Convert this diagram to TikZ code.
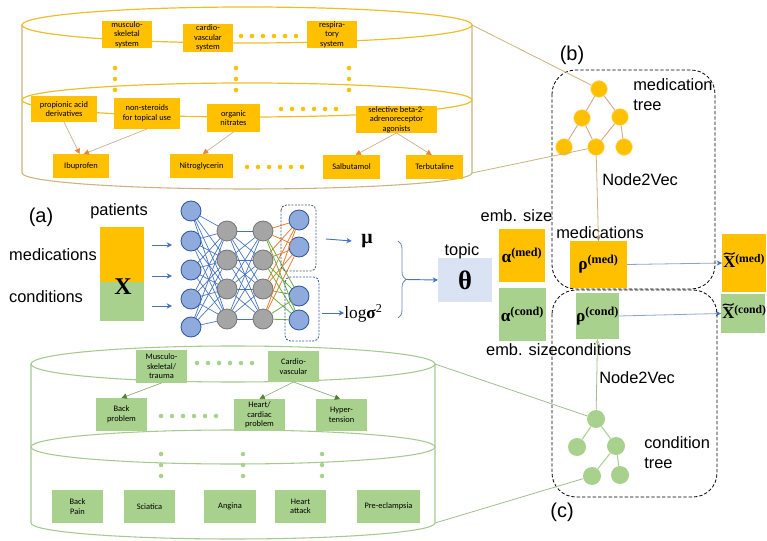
\documentclass[tikz,border=0pt]{standalone}
\usepackage{amsmath}
\usepackage[no-math]{fontspec}
\setmainfont{Liberation Sans}
\newfontfamily\boxfont{Carlito}
\newfontfamily\symserif{Liberation Serif}
\usetikzlibrary{arrows.meta,decorations.pathreplacing}

\definecolor{medor}{HTML}{FFC000}
\definecolor{condgr}{HTML}{A9D18E}
\definecolor{topicbl}{HTML}{DAE3F3}
\definecolor{nnblue}{HTML}{8FAADC}
\definecolor{nnedge}{HTML}{2F5597}
\definecolor{nnline}{HTML}{4472C4}
\definecolor{nngray}{HTML}{A5A5A5}
\definecolor{nngrayedge}{HTML}{767676}
\definecolor{outor}{HTML}{ED7D31}
\definecolor{outgr}{HTML}{70AD47}
\definecolor{goldline}{HTML}{EDBE2A}
\definecolor{tanline}{HTML}{C9B37E}
\definecolor{medarrow}{HTML}{D2A98E}
\definecolor{medtip}{HTML}{E8843A}
\definecolor{cylgreen}{HTML}{A6C98F}
\definecolor{greenarrow}{HTML}{86AD70}
\definecolor{greentip}{HTML}{548235}
\definecolor{recon}{HTML}{8FA3CC}
\definecolor{bracecol}{HTML}{6A87BD}
\definecolor{darkdash}{HTML}{44546A}

% box spanning the corners (x1,y1)-(x2,y2), given in pixel units
\newcommand\cellbox[7]{%
  \node[#1, minimum width={(#4-#2)*0.75pt}, minimum height={(#5-#3)*0.75pt}]
    (#6) at ({(#2+#4)/2},{(#3+#5)/2}) {#7};}
% bold serif symbol with a bracketed superscript
\newcommand\bsup[2]{{\symserif\bfseries #1\textsuperscript{(#2)}}}

\tikzset{
  plainbox/.style={inner sep=0pt, outer sep=0pt, align=center},
  mbox/.style={plainbox, fill=medor, font=\boxfont\fontsize{6.3}{7.2}\selectfont},
  cbox/.style={plainbox, fill=condgr, font=\boxfont\fontsize{6.3}{7.2}\selectfont},
  mathor/.style={plainbox, fill=medor, font=\fontsize{13}{15}\selectfont},
  mathgr/.style={plainbox, fill=condgr, font=\fontsize{13}{15}\selectfont},
  recolbl/.style={inner sep=0pt, anchor=base west, font=\symserif\bfseries\fontsize{12.5}{14}\selectfont},
  tildemark/.style={line width=0.85pt, line cap=round},
  lbl/.style={inner sep=0pt, font=\fontsize{12.3}{15}\selectfont},
  tag/.style={inner sep=0pt, font=\fontsize{15}{17}\selectfont},
  inn/.style={circle, minimum size=15pt, inner sep=0pt, fill=nnblue, draw=nnedge, line width=0.6pt},
  hid/.style={circle, minimum size=15pt, inner sep=0pt, fill=nngray, draw=nngrayedge, line width=0.6pt},
  mnode/.style={circle, minimum size=12.5pt, inner sep=0pt, fill=medor, draw=medor!55!white, line width=0.4pt},
  cnode/.style={circle, minimum size=13.5pt, inner sep=0pt, fill=condgr},
  medarr/.style={draw=medarrow, line width=0.5pt, -{Triangle[length=4pt,width=4pt,color=medtip]}},
  condarr/.style={draw=greenarrow, line width=0.5pt, -{Triangle[length=4pt,width=4pt,color=greentip]}},
  bluearr/.style={draw=nnline, line width=0.7pt, -{Stealth[length=4pt,width=4pt]}},
  treebox/.style={dashed, dash pattern=on 2.5pt off 1.5pt, line width=0.6pt, rounded corners=18pt},
}

\begin{document}
\begin{tikzpicture}[x=0.75pt,y=-0.75pt]
\useasboundingbox (0,0) rectangle (767,541);

% ---------- medication hierarchy cylinder ----------
\draw[tanline, line width=0.8pt] (22,25) -- (22,173)
  arc[start angle=180, end angle=360, x radius=168.75pt, y radius=12pt] -- (472,25);
\draw[goldline, line width=0.9pt] (247,25) ellipse [x radius=168.75pt, y radius=13.5pt];
\draw[goldline, line width=0.9pt] (247,100) ellipse [x radius=168.75pt, y radius=12.75pt];
\coordinate (topcylR) at (472,25);
\coordinate (topcylB) at (472,173);

\foreach \x in {241,252,...,296} \fill[medor] (\x,36) circle[radius=1.7pt];
\foreach \x in {115,236,349} \foreach \y in {68,79,90} \fill[medor] (\x,\y) circle[radius=1.7pt];
\foreach \x in {281,292,...,336} \fill[medor] (\x,109) circle[radius=1.7pt];
\foreach \x in {247,258,...,302} \fill[medor] (\x,167) circle[radius=1.7pt];

\cellbox{mbox}{102}{21}{152}{48}{ms}{musculo-\\skeletal\\system}
\cellbox{mbox}{183}{24}{233}{52}{cv}{cardio-\\vascular\\system}
\cellbox{mbox}{307}{21}{357}{48}{rs}{respira-\\tory\\system}
\cellbox{mbox}{31}{96}{97}{122}{pad}{propionic acid\\derivatives}
\cellbox{mbox}{114}{98}{180}{129}{nst}{non-steroids\\for topical use}
\cellbox{mbox}{207}{104}{260}{132}{orn}{organic\\nitrates}
\cellbox{mbox}{356}{106}{437}{133}{sba}{selective beta-2-\\adrenoreceptor\\agonists}
\cellbox{mbox}{53}{154}{109}{178}{ibu}{Ibuprofen}
\cellbox{mbox}{170}{154}{233}{178}{ntg}{Nitroglycerin}
\cellbox{mbox}{323}{155}{380}{179}{sal}{Salbutamol}
\cellbox{mbox}{406}{155}{463}{179}{ter}{Terbutaline}

\draw[medarr] (pad.south) -- ([xshift=-1pt]ibu.north);
\draw[medarr] (nst.south) -- ([xshift=2pt]ibu.north);
\draw[medarr] (orn.south) -- ([xshift=1pt]ntg.north);
\draw[medarr] (sba.south) -- ([xshift=3pt]sal.north);
\draw[medarr] (sba.south) -- ([xshift=-2pt]ter.north);

% ---------- condition hierarchy cylinder ----------
\draw[cylgreen, line width=0.8pt] (31,364) -- (31,523)
  arc[start angle=180, end angle=360, x radius=151.5pt, y radius=12pt] -- (435,364);
\draw[cylgreen, line width=0.8pt] (233,364) ellipse [x radius=151.5pt, y radius=13.5pt];
\draw[cylgreen, line width=0.8pt] (233,447) ellipse [x radius=151.5pt, y radius=12.75pt];
\coordinate (botcylR) at (435,364);
\coordinate (botcylB) at (435,523);

\foreach \x in {197,208,...,252} \fill[condgr] (\x,363) circle[radius=1.7pt];
\foreach \x in {161,172,...,216} \fill[condgr] (\x,416) circle[radius=1.7pt];
\foreach \x in {161,243,322} \foreach \y in {454,465,476} \fill[condgr] (\x,\y) circle[radius=1.7pt];

\cellbox{cbox}{136}{350}{187}{383}{mst}{Musculo-\\skeletal/\\trauma}
\cellbox{cbox}{268}{351}{319}{382}{cvb}{Cardio-\\vascular}
\cellbox{cbox}{96}{398}{147}{431}{bp}{Back\\problem}
\cellbox{cbox}{234}{399}{285}{431}{hcp}{Heart/\\cardiac\\problem}
\cellbox{cbox}{316}{399}{367}{431}{hyp}{Hyper-\\tension}
\cellbox{cbox}{52}{490}{103}{523}{bpn}{Back\\Pain}
\cellbox{cbox}{124}{490}{175}{523}{sci}{Sciatica}
\cellbox{cbox}{204}{490}{256}{523}{ang}{Angina}
\cellbox{cbox}{275}{490}{326}{523}{hat}{Heart\\attack}
\cellbox{cbox}{357}{490}{420}{523}{pre}{Pre-eclampsia}

\draw[condarr] (mst.south) -- (bp.north);
\draw[condarr] (cvb.south) -- (hcp.north);
\draw[condarr] (cvb.south) -- ([xshift=-1pt]hyp.north);

% ---------- input matrix ----------
\node[tag] (lbla) at (41,217) {(a)};
\node[lbl] (lblpat) at (119,211) {patients};
\node[lbl] (lblmed) at (53,255) {medications};
\node[lbl] (lblcond) at (46,297) {conditions};
\cellbox{plainbox, fill=medor}{100}{227}{144}{282}{xmed}{}
\cellbox{plainbox, fill=condgr}{100}{282}{144}{321}{xcond}{}
\node[inner sep=0pt, font=\symserif\bfseries\fontsize{18}{20}\selectfont] (xlbl) at (123,287) {X};

% ---------- encoder network ----------
\foreach \i/\y in {1/211,2/241,3/270,4/299,5/327} \node[inn] (i\i) at (191,\y) {};
\foreach \i/\y in {1/231,2/260,3/289,4/319} \node[hid] (h\i) at (227,\y) {};
\foreach \i/\y in {1/231,2/260,3/289,4/319} \node[hid] (g\i) at (263,\y) {};
\foreach \i/\y in {1/220,2/247,3/296,4/320} \node[inn] (o\i) at (299,\y) {};

\foreach \i in {1,...,5} \foreach \j in {1,...,4} \draw[nnline, line width=0.5pt] (i\i) -- (h\j);
\foreach \i in {1,...,4} \foreach \j in {1,...,4} \draw[nnline, line width=0.5pt] (h\i) -- (g\j);
\foreach \i in {1,...,4} \foreach \j in {1,2} \draw[outor, line width=0.6pt] (g\i) -- (o\j);
\foreach \i in {1,...,4} \foreach \j in {3,4} \draw[outgr, line width=0.6pt] (g\i) -- (o\j);

\draw[darkdash, dashed, dash pattern=on 1.5pt off 1pt, line width=0.6pt, rounded corners=4pt] (281,205) rectangle (316,271);
\draw[nnedge, dashed, dash pattern=on 1.5pt off 1pt, line width=0.6pt, rounded corners=4pt] (285,277) rectangle (319,341);

\coordinate (xa1) at (152,245); \coordinate (xb1) at (172,245);
\coordinate (xa2) at (152,276); \coordinate (xb2) at (172,276);
\coordinate (xa3) at (152,306); \coordinate (xb3) at (172,306);
\foreach \k in {1,2,3} \draw[bluearr] (xa\k) -- (xb\k);

\node[inner sep=0pt, font=\symserif\bfseries\fontsize{15}{17}\selectfont] (mu) at (367,241) {μ};
\node[inner sep=0pt, anchor=west, font=\symserif\fontsize{13}{15}\selectfont] (lsig) at (344,313) {log\textbf{σ}\textsuperscript{2}};
\coordinate (mua) at (326,239);
\coordinate (siga) at (322,313);
\draw[bluearr] (mua) -- ([xshift=-7pt]mu.west);
\draw[bluearr] (siga) -- (lsig.west);

\draw[bracecol, line width=0.6pt, decorate, decoration={brace, amplitude=6pt}] (398,241) -- (398,318);
\coordinate (bracetip) at (406,279.5);

% ---------- topic and embeddings ----------
\cellbox{plainbox, fill=topicbl, font=\symserif\bfseries\fontsize{20}{22}\selectfont}{438}{258}{492}{302}{theta}{θ}
\node[lbl] (lbltopic) at (462,251) {topic};
\draw[bluearr] (bracetip) -- (theta.west);

\cellbox{mathor}{499}{229}{545}{282}{amed}{\bsup{α}{med}}
\cellbox{mathgr}{499}{288}{546}{341}{acond}{\bsup{α}{cond}}
\node[lbl] (emb1) at (516.5,216) {emb. size};
\node[lbl] (emb2) at (522,350) {emb. size};

\cellbox{mathor}{570}{241}{627}{288}{rhomed}{\bsup{ρ}{med}}
\cellbox{mathgr}{578}{293}{617}{339}{rhocond}{\bsup{ρ}{cond}}
\node[lbl] (lblmeds) at (600,233) {medications};
\node[lbl] (lblconds) at (594.5,350) {conditions};

% reconstructed outputs; the tilde over X is drawn as a small wave
\cellbox{mathor}{722}{234}{766}{292}{xtmed}{}
\cellbox{mathgr}{721}{294}{765}{333}{xtcond}{}
\node[recolbl] (xtmedlbl) at (723,268) {X\textsuperscript{(med)}};
\node[recolbl] (xtcondlbl) at (722,319) {X\textsuperscript{(cond)}};
\foreach \n in {xtmedlbl,xtcondlbl}
  \draw[tildemark] ([xshift=0.7pt,yshift=10.4pt]\n.base west)
    .. controls +(1.3pt,1.7pt) and +(-1.7pt,0pt) .. +(3.9pt,0.3pt)
    .. controls +(1.7pt,0pt) and +(-1.3pt,-1.7pt) .. +(8pt,1pt);
\draw[recon, line width=0.6pt, -{Stealth[length=4pt,width=4pt,color=nnline]}] (rhomed.east) -- (xtmed.west);
\draw[recon, line width=0.6pt, -{Stealth[length=4pt,width=4pt,color=nnline]}] (rhocond.east) -- (xtcond.west);

% ---------- medication tree (b) ----------
\draw[treebox] (552,70) rectangle (715,289);
\node[tag] (lblb) at (572,55) {(b)};
\node[mnode] (mt1) at (599,89) {};
\node[mnode] (mt2) at (582,118) {};
\node[mnode] (mt3) at (620,117) {};
\node[mnode] (mt4) at (564,147) {};
\node[mnode] (mt5) at (596,147) {};
\node[mnode] (mt6) at (624,147) {};
\foreach \a/\b in {mt1/mt2,mt1/mt3,mt2/mt4,mt2/mt5,mt3/mt5,mt3/mt6}
  \draw[medarrow, line width=0.7pt] (\a) -- (\b);
\node[lbl, anchor=west, align=left] (lblmt) at (633,95) {medication\\tree};
\node[lbl, anchor=west] (n2v1) at (602,180) {Node2Vec};
\draw[tanline, line width=0.6pt] (topcylR) -- (mt1);
\draw[tanline, line width=0.6pt] (topcylB) -- (mt5);
\draw[tanline, line width=0.6pt, -{Stealth[length=4pt,width=3.5pt,color=medarrow!80!black]}] (mt5) -- (rhomed.north);

% ---------- condition tree (c) ----------
\draw[treebox] (552,290) rectangle (717,497);
\node[tag] (lblc) at (562,512) {(c)};
\node[cnode] (ct1) at (596,419) {};
\node[cnode] (ct2) at (577,447) {};
\node[cnode] (ct3) at (616,446) {};
\node[cnode] (ct4) at (592,476) {};
\node[cnode] (ct5) at (620,475) {};
\foreach \a/\b in {ct1/ct2,ct1/ct3,ct3/ct4,ct3/ct5}
  \draw[condgr, line width=0.8pt] (\a) -- (\b);
\node[lbl, anchor=west, align=left] (lblct) at (644,453) {condition\\tree};
\node[lbl, anchor=west] (n2v2) at (599,378) {Node2Vec};
\draw[cylgreen!85!gray, line width=0.6pt] (botcylR) -- (ct1);
\draw[cylgreen!85!gray, line width=0.6pt] (botcylB) -- (ct4);
\draw[cylgreen!85!gray, line width=0.6pt, -{Stealth[length=4pt,width=3.5pt,color=condgr]}] (ct1) -- (rhocond.south);
\end{tikzpicture}
\end{document}
